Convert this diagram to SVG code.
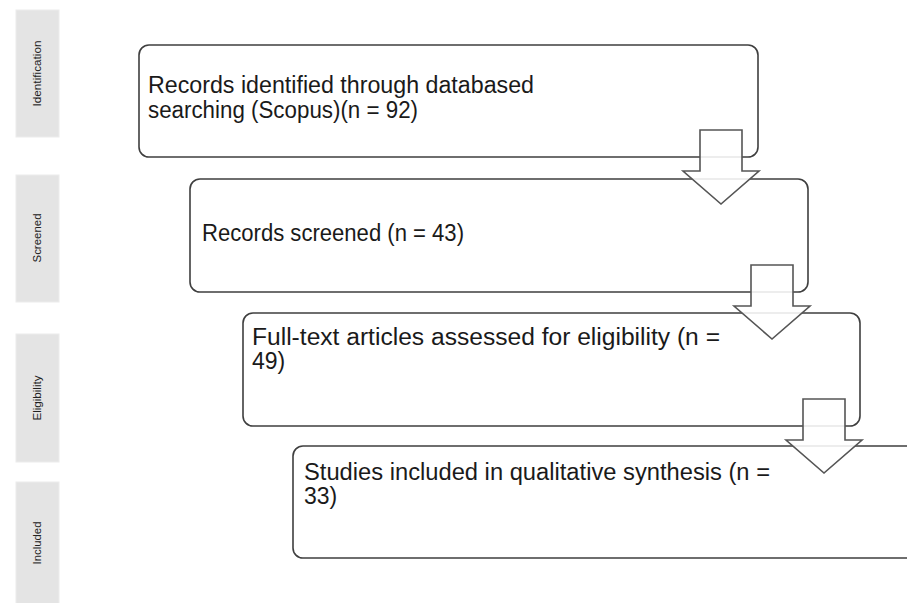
<svg xmlns="http://www.w3.org/2000/svg" width="907" height="603" viewBox="0 0 907 603">
  <style>
    .phase { fill: #e4e4e4; stroke: #ececec; stroke-width: 1; }
    .phase-label { font-family: "Liberation Sans", Arial, sans-serif; font-size: 10px; fill: #222; text-anchor: middle; }
    .box { fill: #ffffff; stroke: #3f3f3f; stroke-width: 1.6; }
    .label { font-family: "Liberation Sans", Arial, sans-serif; font-size: 23px; fill: #1a1a1a; }
    .flow { fill: #ffffff; fill-opacity: 0.88; stroke: #555555; stroke-width: 1.6; stroke-linejoin: miter; }
  </style>
  <defs>
    <polygon id="down-arrow" points="17,0 59,0 59,41 76,41 38,74 0,41 17,41"/>
  </defs>
  <rect width="907" height="603" fill="#ffffff"/>

  <!-- phase column -->
  <g id="phase-identification">
    <rect class="phase" x="16" y="10" width="43" height="127"/>
    <text class="phase-label" transform="translate(41 73.5) rotate(-90)" textLength="66" lengthAdjust="spacingAndGlyphs">Identification</text>
  </g>
  <g id="phase-screened">
    <rect class="phase" x="16" y="175" width="43" height="127"/>
    <text class="phase-label" transform="translate(41 238) rotate(-90)" textLength="49" lengthAdjust="spacingAndGlyphs">Screened</text>
  </g>
  <g id="phase-eligibility">
    <rect class="phase" x="16" y="334" width="43" height="128"/>
    <text class="phase-label" transform="translate(41 398) rotate(-90)" textLength="45" lengthAdjust="spacingAndGlyphs">Eligibility</text>
  </g>
  <g id="phase-included">
    <rect class="phase" x="16" y="482" width="43" height="125"/>
    <text class="phase-label" transform="translate(41 543) rotate(-90)" textLength="43" lengthAdjust="spacingAndGlyphs">Included</text>
  </g>

  <!-- flow boxes -->
  <g id="node-identified">
    <rect class="box" x="139" y="45" width="619" height="112" rx="10"/>
    <text class="label" x="148" y="93" textLength="386" lengthAdjust="spacingAndGlyphs">Records identified through databased</text>
    <text class="label" x="148" y="118" textLength="270" lengthAdjust="spacingAndGlyphs">searching (Scopus)(n = 92)</text>
  </g>
  <g id="node-screened">
    <rect class="box" x="190" y="179" width="618" height="113" rx="10"/>
    <text class="label" x="202" y="241" textLength="262" lengthAdjust="spacingAndGlyphs">Records screened (n = 43)</text>
  </g>
  <g id="node-eligibility">
    <rect class="box" x="243" y="313" width="617" height="113" rx="10"/>
    <text class="label" x="252" y="345" textLength="468" lengthAdjust="spacingAndGlyphs">Full-text articles assessed for eligibility (n =</text>
    <text class="label" x="252" y="369">49)</text>
  </g>
  <g id="node-included">
    <rect class="box" x="293" y="446" width="625" height="112" rx="10"/>
    <text class="label" x="304" y="480" textLength="466" lengthAdjust="spacingAndGlyphs">Studies included in qualitative synthesis (n =</text>
    <text class="label" x="304" y="504">33)</text>
  </g>

  <!-- block arrows between stages -->
  <g id="connectors">
    <use href="#down-arrow" class="flow" x="683" y="130"/>
    <use href="#down-arrow" class="flow" x="734" y="265"/>
    <use href="#down-arrow" class="flow" x="786" y="399"/>
  </g>
</svg>
